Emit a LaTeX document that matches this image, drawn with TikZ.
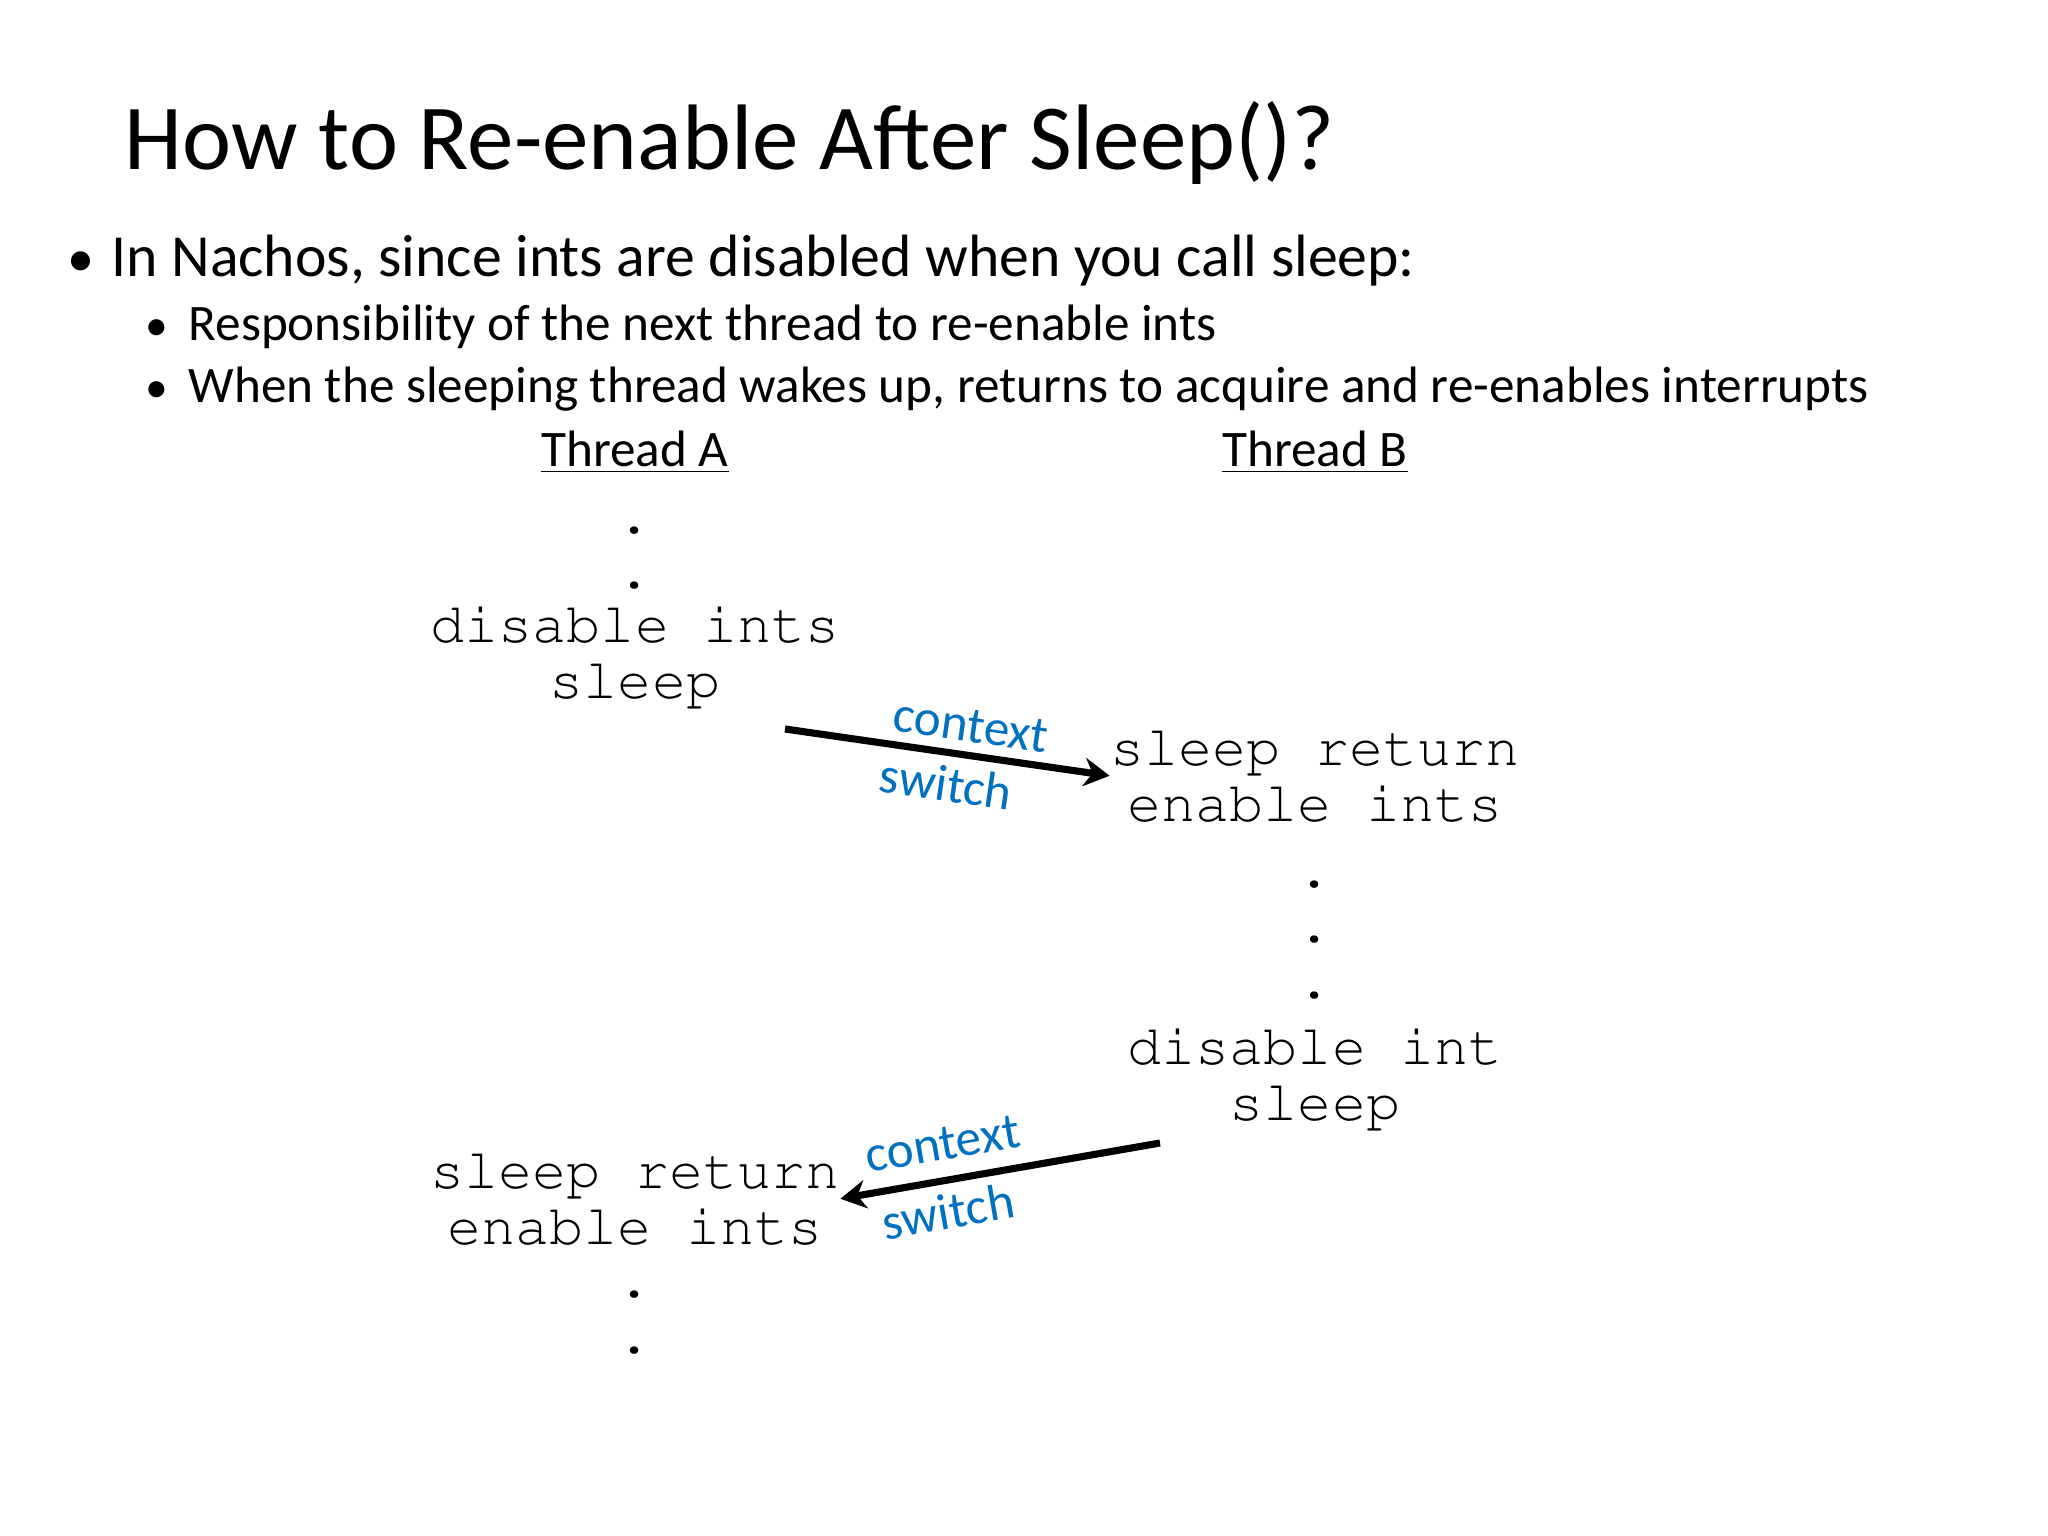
\documentclass[tikz,border=0pt]{standalone}
\usepackage[T1]{fontenc}
\usepackage{fontspec}
\setmainfont{Carlito}
\newcommand\codefont{\fontencoding{T1}\fontfamily{pcr}\selectfont}
\usepackage{xcolor}
\usetikzlibrary{arrows.meta,positioning}
\definecolor{ctxblue}{RGB}{0,112,192}

\begin{document}
\begin{tikzpicture}[
    x=0.3515625pt, y=-0.3515625pt,
    >={Stealth[length=9pt,width=10pt]},
    heading/.style={anchor=base west, inner sep=0pt, font=\fontsize{32.7}{38}\selectfont},
    point/.style={anchor=base west, inner sep=0pt, font=\fontsize{21}{25}\selectfont},
    subpoint/.style={anchor=base west, inner sep=0pt, font=\fontsize{18}{22}\selectfont},
    dotmark/.style={anchor=base, inner sep=0pt},
    thread/.style={anchor=base, inner sep=0pt, font=\fontsize{18}{22}\selectfont},
    code/.style={anchor=base, inner sep=0pt, align=center, font=\codefont\fontsize{20}{19.34}\selectfont\lineskiplimit-20pt\relax},
    ctx/.style={->, line width=2.5pt},
    ctxlabel/.style={sloped, font=\fontsize{18}{22}\selectfont, text=ctxblue}
]
\useasboundingbox (0,0) rectangle (2048,1536);

% Title and bullets
\node[heading] (title) at (124,170) {How to Re-enable After Sleep()?};
\node[point] (pt1) at (111,277) {In Nachos, since ints are disabled when you call sleep:};
\node[subpoint] (pt2) at (188,341) {Responsibility of the next thread to re-enable ints};
\node[subpoint] (pt3) at (188,403) {When the sleeping thread wakes up, returns to acquire and re-enables interrupts};
\node[dotmark, font=\fontsize{19}{25}\selectfont] (dot1) at (81,277) {\textbullet};
\node[dotmark, font=\fontsize{16}{22}\selectfont] (dot2) at (157,341) {\textbullet};
\node[dotmark, font=\fontsize{16}{22}\selectfont] (dot3) at (157,403) {\textbullet};

% Column headers
\node[thread] (thrA) at (635,467) {\underline{Thread A}};
\node[thread] (thrB) at (1315,467) {\underline{Thread B}};

% Thread A code
\node[code] (aDots1) at (635,589) {.\\.};
\node[code] (aDis) at (635,698) {disable ints\\sleep};
\node[code] (aRet) at (635,1244) {sleep return\\enable ints};
\node[code] (aDots2) at (635,1353) {.\\.};

% Thread B code
\node[code] (bRet) at (1315,821) {sleep return\\enable ints};
\node[code] (bDots) at (1315,998) {.\\.\\.};
\node[code] (bDis) at (1315,1120) {disable int\\sleep};

% Context switches
\coordinate (aOut) at (785,729);
\coordinate (bOut) at (1160,1143);
\draw[ctx] (aOut) -- node[ctxlabel, above, pos=0.56] {context}
    node[ctxlabel, below, pos=0.51] {switch} (bRet.west);
\draw[ctx, <-] (aRet.east) -- node[ctxlabel, above=2.5pt, pos=0.34] {context}
    node[ctxlabel, below=0pt, pos=0.32] {switch} (bOut);

\end{tikzpicture}
\end{document}
